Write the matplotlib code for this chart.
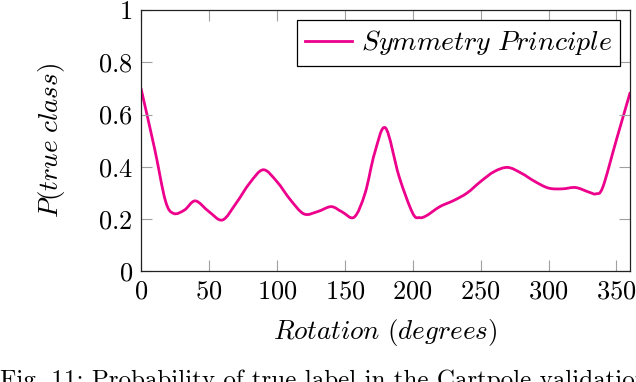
import numpy as np
import matplotlib
matplotlib.use("Agg")
import matplotlib.pyplot as plt
from matplotlib.path import Path
from matplotlib.patches import PathPatch
from matplotlib.lines import Line2D

rotation = [0, 10, 18, 24, 32, 40, 50, 60, 70, 80, 90, 100, 110, 120, 130, 140,
            148, 157, 165, 172, 180, 190, 200, 205, 210, 220, 230, 240, 250, 260,
            270, 280, 290, 300, 310, 320, 330, 335, 340, 350, 360]
p_true = [0.70, 0.47, 0.27, 0.222, 0.235, 0.27, 0.229, 0.197, 0.261, 0.338, 0.389,
          0.344, 0.274, 0.220, 0.229, 0.248, 0.228, 0.208, 0.30, 0.453, 0.549,
          0.363, 0.223, 0.206, 0.213, 0.248, 0.271, 0.30, 0.344, 0.382, 0.398,
          0.376, 0.344, 0.319, 0.316, 0.321, 0.303, 0.297, 0.323, 0.504, 0.683]
series_label = r'$Symmetry\ Principle$'
xticks = [0, 50, 100, 150, 200, 250, 300, 350]
yticks = [0, 0.2, 0.4, 0.6, 0.8, 1]
ytick_labels = ['0', '0.2', '0.4', '0.6', '0.8', '1']
caption = "Fig. 11: Probability of true label in the Cartpole validation set."

plt.rcParams['mathtext.fontset'] = 'cm'
plt.rcParams['font.family'] = ['cmr10', 'DejaVu Serif']
plt.rcParams['axes.formatter.use_mathtext'] = True

color = '#EC008C'
fig = plt.figure(figsize=(6.36, 3.82), dpi=100)
ax = fig.add_axes([0.2217, 0.2893, 0.7689, 0.6845])

# smooth curve (Catmull-Rom as cubic Bezier) through the data points
x = np.asarray(rotation, float)
y = np.asarray(p_true, float)
verts = [(x[0], y[0])]
codes = [Path.MOVETO]
n = len(x)
for i in range(n - 1):
    i0 = max(i - 1, 0)
    i3 = min(i + 2, n - 1)
    c1 = (x[i] + (x[i + 1] - x[i0]) / 6, y[i] + (y[i + 1] - y[i0]) / 6)
    c2 = (x[i + 1] - (x[i3] - x[i]) / 6, y[i + 1] - (y[i3] - y[i]) / 6)
    verts += [c1, c2, (x[i + 1], y[i + 1])]
    codes += [Path.CURVE4] * 3
patch = PathPatch(Path(verts, codes), facecolor='none', edgecolor=color,
                  lw=2.0, capstyle='round', joinstyle='round')
ax.add_patch(patch)

ax.set_xlim(0, 360)
ax.set_ylim(0, 1)
ax.set_xticks(xticks)
ax.set_xticklabels([f'${v}$' for v in xticks])
ax.set_yticks(yticks)
ax.set_yticklabels([f'${v}$' for v in ytick_labels])
ax.tick_params(direction='in', length=8, width=0.8, color='#a0a0a0',
               top=True, right=True, labelsize=19, pad=6)
for s in ax.spines.values():
    s.set_linewidth(0.9)
    s.set_color('#222222')

ax.set_xlabel(r'$Rotation\ (degrees)$', fontsize=19.5, labelpad=10)
ax.set_ylabel(r'$P(true\ class)$', fontsize=19.5, labelpad=22)

handle = Line2D([], [], color=color, lw=2.0)
leg = ax.legend([handle], [series_label], loc='upper right', fontsize=20,
                fancybox=False, edgecolor='black', framealpha=1,
                handlelength=1.7, borderaxespad=0.36, handletextpad=0.3,
                borderpad=0.3)
leg.get_frame().set_linewidth(0.9)

fig.text(0.0, 0.032, caption, fontsize=18, ha='left', va='top',
         family=['cmr10', 'DejaVu Serif'])

fig.savefig('out.png', dpi=100)
